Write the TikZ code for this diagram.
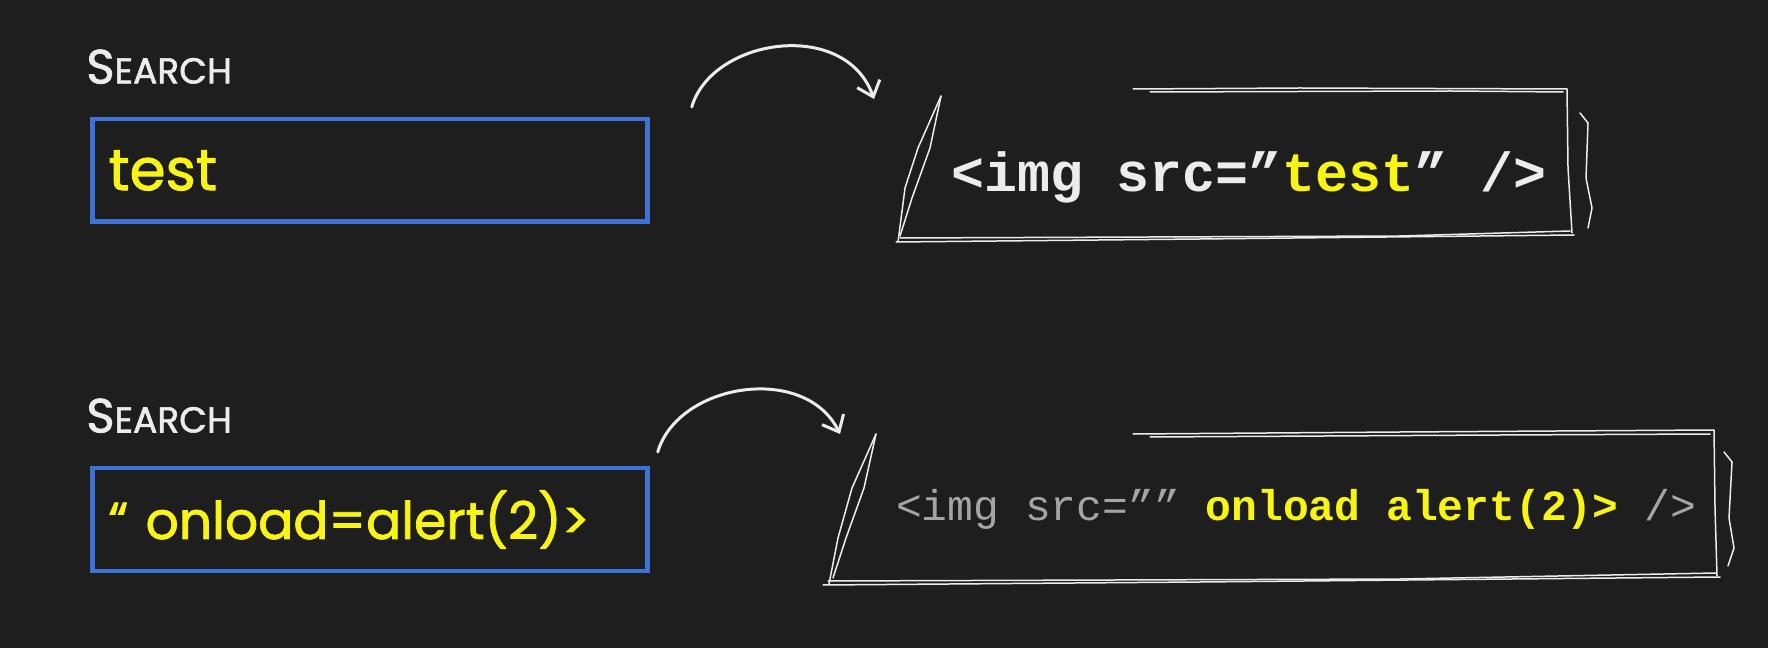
\documentclass[tikz,border=0pt]{standalone}
\usepackage{fontspec}
\usetikzlibrary{positioning, arrows.meta}
\newfontfamily\uifont{Poppins}[FakeBold=1.6]
\newfontfamily\codefont{Liberation Mono}
\definecolor{board}{RGB}{30,30,31}
\definecolor{hiyellow}{RGB}{248,244,20}
\definecolor{fieldblue}{RGB}{62,114,214}
\definecolor{chalk}{RGB}{236,236,236}
\definecolor{dimgrey}{RGB}{165,165,165}
\newcommand{\fakesc}[2]{{\fontsize{48}{48}\selectfont #1}{\fontsize{36}{36}\selectfont #2}}

\begin{document}
\begin{tikzpicture}[
  x=1pt, y=1pt,
  inbox/.style={
    draw=fieldblue,
    line width=4.5pt,
    minimum height=102.5pt,
    inner xsep=16pt,
    text width=523pt,
    align=left,
    text=hiyellow,
    font=\uifont\fontsize{54}{60}\selectfont
  },
  lbl/.style={inner sep=0pt, text=chalk, font=\uifont},
  code/.style={inner sep=0pt, font=\codefont\bfseries},
  sketch/.style={draw=chalk, line width=1.5pt, line join=round, line cap=round},
  chalkarr/.style={draw=chalk, line width=3pt, line cap=round,
    -{Straight Barb[length=14pt, width=24pt, line width=3pt]}}
]
\useasboundingbox (0,0) rectangle (1768,648);
\fill[board] (0,0) rectangle (1768,648);

% input fields
\node[inbox, font=\uifont\fontsize{58}{60}\selectfont] (inp1) at (370,477.5) {test};
\node[inbox, font=\uifont\fontsize{52}{60}\selectfont] (inp2) at (370,128.5) {“ onload=alert(2)>};

\node[lbl, above right=33pt and -4pt of inp1.north west] (lbl1) {\fakesc{S}{EARCH}};
\node[lbl, above right=33pt and -4pt of inp2.north west] (lbl2) {\fakesc{S}{EARCH}};

% rendered markup
\node[code, text=chalk, font=\codefont\bfseries\fontsize{55}{60}\selectfont] (code1) at (1249,471)
  {<img src=”\textcolor{hiyellow}{test}” />};
\node[code, font=\codefont\bfseries\fontsize{43}{48}\selectfont] (code2) at (1296,139)
  {\textcolor{dimgrey}{\mdseries <img src=””} \textcolor{hiyellow}{onload alert(2)>} \textcolor{dimgrey}{\mdseries />}};

\coordinate (tip1) at (874,549);
\coordinate (tip2) at (840,214);

\draw[chalkarr] ([shift={(42,10)}]inp1.north east) .. controls (712,610) and (845,630) .. (tip1);
\draw[chalkarr] ([shift={(8,14)}]inp2.north east) .. controls (678,265) and (805,285) .. (tip2);

% hand drawn frame, top
\draw[sketch] (1133,559) -- (1300,560) -- (1567,559) -- (1568,480) -- (1572,415);
\draw[sketch] (1150,556) -- (1450,557) -- (1563,556);
\draw[sketch] (1580,535) -- (1588,525) -- (1586,470) -- (1592,440) -- (1588,420);
\draw[sketch] (896,406) -- (1200,409) -- (1574,413);
\draw[sketch] (900,410) -- (1400,412) -- (1570,417);
\draw[sketch] (941,552) -- (918,500) -- (905,460) -- (898,406);
\draw[sketch] (941,552) -- (930,500) -- (912,450) -- (900,412);

% hand drawn frame, bottom
\draw[sketch] (1133,214) -- (1400,216) -- (1714,218) -- (1715,140) -- (1717,72);
\draw[sketch] (1150,211) -- (1500,213) -- (1710,214);
\draw[sketch] (1724,196) -- (1732,186) -- (1729,130) -- (1734,100) -- (1728,82);
\draw[sketch] (823,63) -- (1200,66) -- (1720,71);
\draw[sketch] (828,67) -- (1400,69) -- (1716,75);
\draw[sketch] (876,214) -- (852,160) -- (838,110) -- (829,64);
\draw[sketch] (876,214) -- (864,160) -- (846,110) -- (833,70);

\end{tikzpicture}
\end{document}
